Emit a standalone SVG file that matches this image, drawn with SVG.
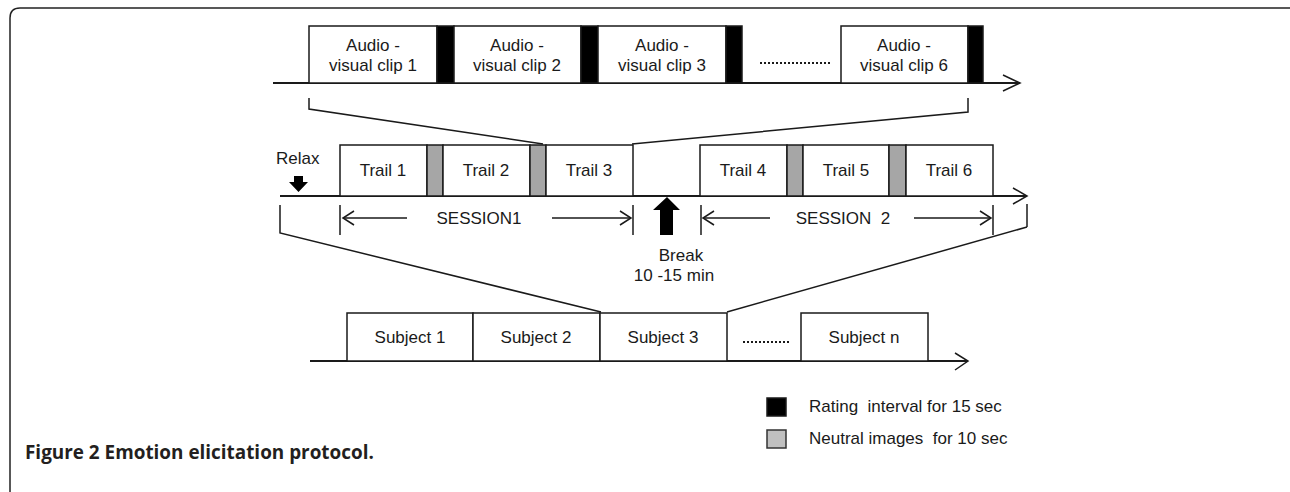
<svg xmlns="http://www.w3.org/2000/svg" width="1290" height="492" viewBox="0 0 1290 492">
<style>
.box{fill:#fff;stroke:#1a1a1a;stroke-width:1.5}
.blk{fill:#000;stroke:#1a1a1a;stroke-width:1.5}
.gry{fill:#a6a6a6;stroke:#1a1a1a;stroke-width:1.5}
.ln{fill:none;stroke:#1a1a1a;stroke-width:1.5}
.ax{fill:none;stroke:#1a1a1a;stroke-width:2}
.dot{fill:none;stroke:#1a1a1a;stroke-width:2;stroke-dasharray:2 2}
.t{font-family:"Liberation Sans",Arial,sans-serif;font-size:17px;fill:#1a1a1a;text-anchor:middle}
.tl{font-family:"Liberation Sans",Arial,sans-serif;font-size:17px;fill:#1a1a1a}
.cap{font-family:"Open Sans","Noto Sans",sans-serif;font-size:18.9px;font-weight:bold;fill:#231f20}
</style>
<rect width="1290" height="492" fill="#fff"/>
<path d="M10 492 V18 Q10 8 20 8 H1290" fill="none" stroke="#222" stroke-width="1.5"/>

<g id="connectors">
<line class="ax" x1="273" y1="83" x2="1020" y2="83"/>
<polyline class="ln" points="1003,75 1020,83 1003,91"/>
<polyline class="ln" points="309,98 309,109 543,144"/>
<polyline class="ln" points="968,98 968,112 632,144"/>
<line class="ax" x1="280" y1="196" x2="1027" y2="196"/>
<polyline class="ln" points="1013,188 1027,196 1013,204"/>
<line class="ln" x1="340" y1="205" x2="340" y2="235"/>
<line class="ln" x1="633" y1="205" x2="633" y2="235"/>
<line class="ln" x1="701" y1="205" x2="701" y2="235"/>
<line class="ln" x1="993" y1="205" x2="993" y2="235"/>
<line class="ln" x1="1027" y1="204" x2="1027" y2="227"/>
<line class="ln" x1="407" y1="218" x2="343" y2="218"/>
<polyline class="ln" points="354,211 343,218 354,225"/>
<line class="ln" x1="552" y1="218" x2="631" y2="218"/>
<polyline class="ln" points="620,211 631,218 620,225"/>
<line class="ln" x1="770" y1="218" x2="703" y2="218"/>
<polyline class="ln" points="714,211 703,218 714,225"/>
<line class="ln" x1="914" y1="218" x2="991" y2="218"/>
<polyline class="ln" points="980,211 991,218 980,225"/>
<polyline class="ln" points="280,205 280,233 601,312"/>
<polyline class="ln" points="1027,227 727,312"/>
<line class="ax" x1="310" y1="361" x2="968" y2="361"/>
<polyline class="ln" points="955,353 968,361 955,370"/>
</g>

<g id="clip1"><rect class="box" x="309" y="26" width="128" height="57"/><rect class="blk" x="437" y="26" width="17" height="57"/>
<text class="t" x="373" y="51">Audio -</text><text class="t" x="373" y="71">visual clip 1</text></g>
<g id="clip2"><rect class="box" x="454" y="26" width="127" height="57"/><rect class="blk" x="581" y="26" width="17" height="57"/>
<text class="t" x="517" y="51">Audio -</text><text class="t" x="517" y="71">visual clip 2</text></g>
<g id="clip3"><rect class="box" x="598" y="26" width="128" height="57"/><rect class="blk" x="726" y="26" width="16" height="57"/>
<text class="t" x="662" y="51">Audio -</text><text class="t" x="662" y="71">visual clip 3</text></g>
<g id="dots-top"><line class="dot" x1="760" y1="63" x2="830" y2="63"/></g>
<g id="clip6"><rect class="box" x="841" y="26" width="127" height="57"/><rect class="blk" x="968" y="26" width="15" height="57"/>
<text class="t" x="904" y="51">Audio -</text><text class="t" x="904" y="71">visual clip 6</text></g>

<g id="relax"><text class="tl" x="276" y="164">Relax</text>
<polygon points="294,176 303,176 303,182 308,182 298.5,192 289,182 294,182" fill="#000"/></g>

<g id="trail1"><rect class="box" x="340" y="145" width="87" height="51"/><text class="t" x="383" y="176">Trail 1</text></g>
<g id="gray1"><rect class="gry" x="427" y="145" width="16" height="51"/></g>
<g id="trail2"><rect class="box" x="443" y="145" width="87" height="51"/><text class="t" x="486" y="176">Trail 2</text></g>
<g id="gray2"><rect class="gry" x="530" y="145" width="16" height="51"/></g>
<g id="trail3"><rect class="box" x="546" y="145" width="87" height="51"/><text class="t" x="589" y="176">Trail 3</text></g>
<g id="trail4"><rect class="box" x="700" y="145" width="87" height="51"/><text class="t" x="743" y="176">Trail 4</text></g>
<g id="gray3"><rect class="gry" x="787" y="145" width="16" height="51"/></g>
<g id="trail5"><rect class="box" x="803" y="145" width="86" height="51"/><text class="t" x="846" y="176">Trail 5</text></g>
<g id="gray4"><rect class="gry" x="889" y="145" width="17" height="51"/></g>
<g id="trail6"><rect class="box" x="906" y="145" width="87" height="51"/><text class="t" x="949" y="176">Trail 6</text></g>

<g id="session1"><text class="t" x="479" y="224">SESSION1</text></g>
<g id="session2"><text class="t" x="843" y="224" xml:space="preserve">SESSION  2</text></g>

<g id="break"><polygon points="667,197 680,210 673,210 673,235 660,235 660,210 653,210" fill="#000"/>
<text class="t" x="681" y="261">Break</text><text class="t" x="674" y="281">10 -15 min</text></g>

<g id="subject1"><rect class="box" x="347" y="313" width="126" height="48"/><text class="t" x="410" y="343">Subject 1</text></g>
<g id="subject2"><rect class="box" x="473" y="313" width="127" height="48"/><text class="t" x="536" y="343">Subject 2</text></g>
<g id="subject3"><rect class="box" x="600" y="313" width="127" height="48"/><text class="t" x="663" y="343">Subject 3</text></g>
<g id="dots-bottom"><line class="dot" x1="743" y1="342" x2="790" y2="342"/></g>
<g id="subjectn"><rect class="box" x="801" y="313" width="127" height="48"/><text class="t" x="864" y="343">Subject n</text></g>

<g id="legend">
<rect x="767" y="398" width="19" height="18" fill="#000" stroke="#1a1a1a" stroke-width="1.5"/>
<text class="tl" x="809" y="412" xml:space="preserve">Rating  interval for 15 sec</text>
<rect x="767" y="430" width="19" height="18" fill="#c0c0c0" stroke="#333" stroke-width="1.5"/>
<text class="tl" x="809" y="444" xml:space="preserve">Neutral images  for 10 sec</text>
</g>

<g id="caption"><text class="cap" x="25" y="459">Figure 2 Emotion elicitation protocol.</text></g>
</svg>
